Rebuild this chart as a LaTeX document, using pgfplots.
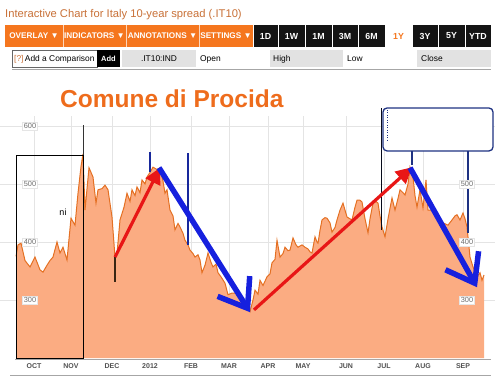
\documentclass[border=0pt]{standalone}
\usepackage{fontspec}
\setmainfont{Liberation Sans}
\usepackage{pgfplots}
\pgfplotsset{compat=1.18}
\usetikzlibrary{arrows.meta}
\definecolor{areafill}{RGB}{251,172,130}
\definecolor{linec}{RGB}{228,112,35}
\definecolor{titleor}{RGB}{238,108,28}
\definecolor{headbrown}{RGB}{200,112,55}
\definecolor{barorange}{RGB}{245,118,30}
\definecolor{gridgray}{RGB}{228,228,228}
\definecolor{monthgray}{RGB}{80,80,80}
\definecolor{ticktext}{RGB}{110,110,110}
\definecolor{arrred}{RGB}{232,22,22}
\definecolor{arrblue}{RGB}{22,32,222}
\definecolor{navy}{RGB}{30,50,130}
\definecolor{btngray}{RGB}{226,226,226}
\newcommand\fs[1]{\fontsize{#1}{#1}\selectfont}
\tikzset{ylab/.style={font=\fs{7.4bp}, text=ticktext, fill=white, draw=black!10, inner sep=1.3bp}}
\begin{document}
\begin{tikzpicture}
\begin{axis}[
  scale only axis, width=495bp, height=242bp,
  xmin=0, xmax=495, ymin=200, ymax=617.24,
  clip=false,
  axis line style={draw=none},
  tick style={draw=none},
  xtick={34,71,112,150,191,229,268,303,346,384,423,463},
  xticklabels={OCT,NOV,DEC,2012,FEB,MAR,APR,MAY,JUN,JUL,AUG,SEP},
  xticklabel style={font=\fs{7bp}\bfseries, text=monthgray, anchor=base, yshift=-10.5bp},
  ytick={300,400,500,600},
  yticklabels={},
  xmajorgrids, ymajorgrids,
  major grid style={gridgray, line width=0.7bp},
]
% area
\addplot[draw=none, fill=areafill] coordinates {
(16,200) (16,375) (18,395) (21,398) (25,368) (30,357) (35,374) (40,352) (43,348) (47,360)
(50,368) (53,374) (57,400) (60,381) (63,391) (67,369) (71,441) (75,429) (78,484) (81,530)
(83,552) (85,455) (89,528) (93,512) (96,467) (98,490) (102,492) (105,498) (108,490) (112,443)
(115,374) (117,380) (120,438) (124,460) (127,484) (130,470) (132,490) (135,480) (137,495) (140,485)
(142,507) (145,500) (147,512) (150,520) (153,529) (157,525) (160,528) (163,505) (165,484) (167,490)
(170,455) (173,445) (175,421) (178,432) (180,426) (183,415) (185,403) (188,395) (190,386) (193,380)
(195,374) (198,378) (200,369) (202,347) (205,360) (208,381) (211,365) (213,357) (216,362) (218,347)
(221,340) (225,329) (228,309) (232,312) (237,312) (240,305) (243,300) (246,295) (250,280) (253,300)
(255,317) (258,310) (260,334) (263,325) (267,340) (270,345) (272,364) (275,370) (277,403) (280,374)
(283,380) (285,391) (288,385) (290,386) (293,407) (296,395) (298,391) (302,395) (305,391) (308,388)
(310,383) (312,381) (315,409) (317,400) (318,398) (320,420) (322,438) (325,442) (327,441) (330,433)
(332,417) (335,425) (337,438) (340,455) (343,467) (345,455) (347,443) (350,440) (352,438) (355,460)
(357,472) (360,472) (362,469) (365,440) (368,416) (370,440) (373,467) (376,470) (378,467) (380,445)
(382,426) (385,409) (388,440) (392,476) (395,455) (398,475) (400,490) (403,485) (405,481) (408,500)
(410,529) (412,520) (413,512) (415,480) (417,460) (420,490) (423,459) (426,507) (428,455) (432,455)
(435,450) (440,440) (443,433) (448,429) (452,438) (455,445) (457,447) (460,438) (463,450) (465,440)
(467,426) (470,374) (473,357) (477,340) (480,347) (482,334) (484,343) (484,200)
} -- cycle;
% line
\addplot[linec, line width=1bp, mark=none] coordinates {
(16,375) (18,395) (21,398) (25,368) (30,357) (35,374) (40,352) (43,348) (47,360)
(50,368) (53,374) (57,400) (60,381) (63,391) (67,369) (71,441) (75,429) (78,484) (81,530)
(83,552) (85,455) (89,528) (93,512) (96,467) (98,490) (102,492) (105,498) (108,490) (112,443)
(115,374) (117,380) (120,438) (124,460) (127,484) (130,470) (132,490) (135,480) (137,495) (140,485)
(142,507) (145,500) (147,512) (150,520) (153,529) (157,525) (160,528) (163,505) (165,484) (167,490)
(170,455) (173,445) (175,421) (178,432) (180,426) (183,415) (185,403) (188,395) (190,386) (193,380)
(195,374) (198,378) (200,369) (202,347) (205,360) (208,381) (211,365) (213,357) (216,362) (218,347)
(221,340) (225,329) (228,309) (232,312) (237,312) (240,305) (243,300) (246,295) (250,280) (253,300)
(255,317) (258,310) (260,334) (263,325) (267,340) (270,345) (272,364) (275,370) (277,403) (280,374)
(283,380) (285,391) (288,385) (290,386) (293,407) (296,395) (298,391) (302,395) (305,391) (308,388)
(310,383) (312,381) (315,409) (317,400) (318,398) (320,420) (322,438) (325,442) (327,441) (330,433)
(332,417) (335,425) (337,438) (340,455) (343,467) (345,455) (347,443) (350,440) (352,438) (355,460)
(357,472) (360,472) (362,469) (365,440) (368,416) (370,440) (373,467) (376,470) (378,467) (380,445)
(382,426) (385,409) (388,440) (392,476) (395,455) (398,475) (400,490) (403,485) (405,481) (408,500)
(410,529) (412,520) (413,512) (415,480) (417,460) (420,490) (423,459) (426,507) (428,455) (432,455)
(435,450) (440,440) (443,433) (448,429) (452,438) (455,445) (457,447) (460,438) (463,450) (465,440)
(467,426) (470,374) (473,357) (477,340) (480,347) (482,334) (484,343)
};
% black frame and lines
\draw[black, line width=0.9bp] (axis cs:16,200) rectangle (axis cs:83,550);
\draw[black!80, line width=0.9bp] (axis cs:83,550) -- (axis cs:83,602);
\draw[black!70!brown, line width=1.2bp] (axis cs:115,374) -- (axis cs:115,331);
\node[font=\fs{9bp}, anchor=center] at (axis cs:63,452) {ni};
% vertical annotation lines
\draw[navy!80!blue, line width=1.4bp] (axis cs:150,555) -- (axis cs:150,521);
\draw[navy!80!blue, line width=1.4bp] (axis cs:188,553) -- (axis cs:188,395);
\draw[black!80!navy, line width=1bp] (axis cs:381,631) -- (axis cs:381,421);
\draw[navy, line width=1.3bp] (axis cs:412,557) -- (axis cs:412,533);
\draw[navy, line width=1.3bp] (axis cs:468,557) -- (axis cs:468,416);
\draw[navy, line width=1.3bp, fill=white, rounded corners=4bp] (axis cs:383,631) rectangle (axis cs:493,557);
\draw[navy, line width=0.7bp, dash pattern=on 1bp off 1.5bp] (axis cs:387,628) -- (axis cs:387,572);
% arrows
\addplot[arrred, line width=3.2bp, mark=none, -{Triangle[length=16bp,width=16bp]}] coordinates {(115,374) (160,528)};
\addplot[arrred, line width=3.2bp, mark=none, -{Triangle[length=16bp,width=16bp]}] coordinates {(254,283) (412,529)};
\addplot[arrblue, line width=5.5bp, mark=none, -{Straight Barb[length=26bp,width=38bp]}] coordinates {(159,528) (250,279)};
\addplot[arrblue, line width=5.5bp, mark=none, -{Straight Barb[length=26bp,width=38bp]}] coordinates {(410,528) (477,322)};
% y labels
\node[ylab] at (axis cs:30,300) {300};
\node[ylab] at (axis cs:30,400) {400};
\node[ylab] at (axis cs:30,500) {500};
\node[ylab] at (axis cs:30,600) {600};
\node[ylab] at (axis cs:467,300) {300};
\node[ylab] at (axis cs:467,400) {400};
\node[ylab] at (axis cs:467,500) {500};
\end{axis}
\begin{scope}[shift={(0,358bp)}, x=1bp, y=-1bp]
  % header title
  \node[anchor=base west, inner sep=0, font=\fs{11.2bp}, text=headbrown] at (5,18) {Interactive Chart for Italy 10-year spread (.IT10)};
  % orange bar
  \fill[barorange] (5,25) rectangle (253,47);
  \foreach \xx in {63,126,199}{\draw[white!70!barorange, line width=0.8bp] (\xx,25) -- (\xx,47);}
  \node[font=\fs{8.2bp}\bfseries, text=white, inner sep=0] at (34,36) {OVERLAY ▼};
  \node[font=\fs{8.2bp}\bfseries, text=white, inner sep=0] at (94.5,36) {INDICATORS ▼};
  \node[font=\fs{8.2bp}\bfseries, text=white, inner sep=0] at (162.5,36) {ANNOTATIONS ▼};
  \node[font=\fs{8.2bp}\bfseries, text=white, inner sep=0] at (226,36) {SETTINGS ▼};
  % time buttons
  \foreach \a/\b/\t in {253/278/1D,278/305/1W,305/332/1M,332/358/3M,358/385/6M,412/438/3Y,438/465/5Y,465/491/YTD}{
    \fill[black!92] (\a+0.5,25) rectangle (\b-0.5,47);
    \node[font=\fs{8.8bp}\bfseries, text=white, inner sep=0] at ({(\a+\b)/2},36) {\t};
  }
  \node[font=\fs{8.8bp}\bfseries, text=barorange, inner sep=0] at (398.5,36) {1Y};
  % second row
  \draw[black!60, line width=0.6bp, fill=white] (12,50) rectangle (97,67);
  \node[anchor=base west, inner sep=0, font=\fs{8.4bp}] at (14,61.5) {\textcolor{headbrown}{[?]}\,Add a Comparison};
  \fill[black] (97,50) rectangle (120,67);
  \node[font=\fs{7.5bp}\bfseries, text=white, inner sep=0] at (108.5,58.5) {Add};
  \fill[btngray] (122,50) rectangle (196,67);
  \node[font=\fs{8.4bp}, inner sep=0] at (159,58.5) {.IT10:IND};
  \node[anchor=base west, inner sep=0, font=\fs{8.4bp}] at (200,61.5) {Open};
  \fill[btngray] (270,50) rectangle (343,67);
  \node[anchor=base west, inner sep=0, font=\fs{8.4bp}] at (273,61.5) {High};
  \node[anchor=base west, inner sep=0, font=\fs{8.4bp}] at (347,61.5) {Low};
  \fill[btngray] (417,50) rectangle (491,67);
  \node[anchor=base west, inner sep=0, font=\fs{8.4bp}] at (421,61.5) {Close};
  \draw[black!35, line width=0.7bp] (12,69) -- (491,69);
  % big title
  \node[anchor=base west, inner sep=0, font=\fs{24.5bp}\bfseries, text=titleor] at (60,108) {Comune di Procida};
  % bottom lines
  \draw[black!35, line width=0.8bp] (15,359) -- (491,359);
  \draw[black!35, line width=0.8bp] (10,375) -- (491,375);
\end{scope}
\pgfresetboundingbox
\path[use as bounding box] (0,-20bp) rectangle (495bp,358bp);
\end{tikzpicture}
\end{document}
